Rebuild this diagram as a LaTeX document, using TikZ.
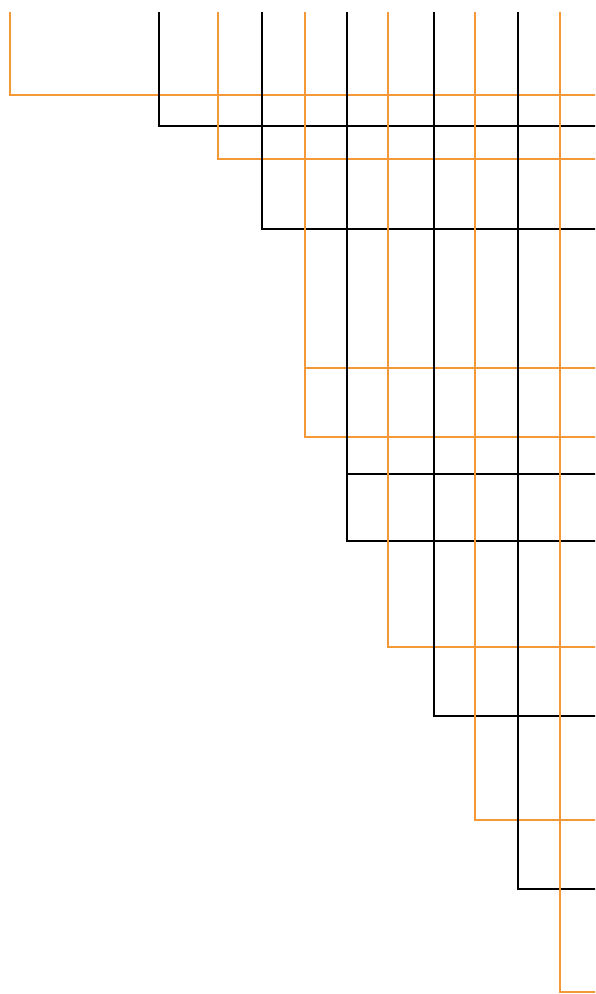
\documentclass[tikz,border=0pt]{standalone}
\definecolor{lorange}{RGB}{245,152,56}
\begin{document}
\begin{tikzpicture}[x=1pt,y=-1pt,
  oline/.style={draw=lorange,line width=2pt},
  kline/.style={draw=black,line width=2pt}]
\useasboundingbox (0,0) rectangle (595,994);
\begin{scope}
\clip (0,0) rectangle (595,994);
\draw[oline] (10,12) |- (596,95);
\draw[kline] (159,12) |- (596,126);
\draw[oline] (218,12) |- (596,159);
\draw[kline] (262,12) |- (596,229);
\draw[oline] (305,12) |- (596,368);
\draw[oline] (305,12) |- (596,437);
\draw[kline] (347,12) |- (596,474);
\draw[kline] (347,12) |- (596,541);
\draw[oline] (388,12) |- (596,647);
\draw[kline] (434,12) |- (596,716);
\draw[oline] (475,12) |- (596,820);
\draw[kline] (518,12) |- (596,889);
\draw[oline] (560,12) |- (596,992);
\end{scope}
\end{tikzpicture}
\end{document}
